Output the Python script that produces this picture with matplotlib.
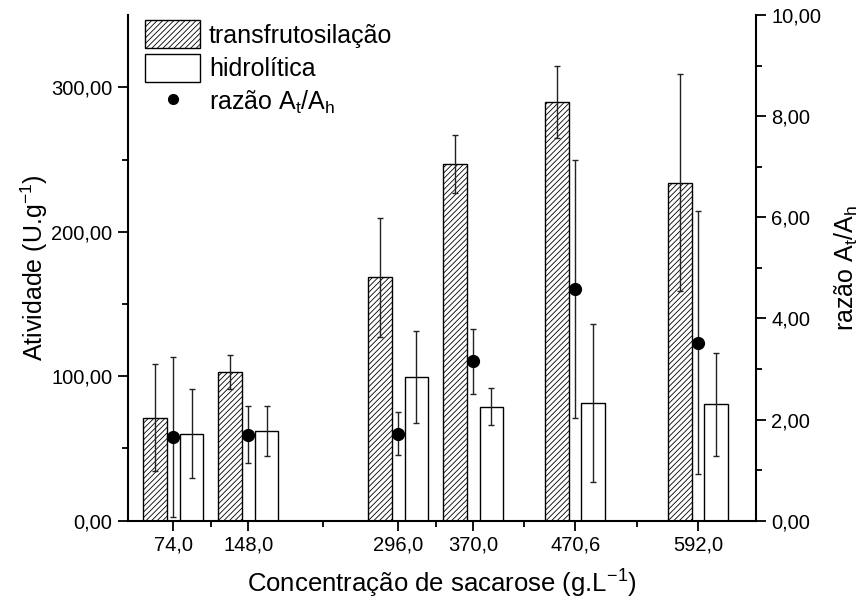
import matplotlib
matplotlib.use("Agg")
import matplotlib.pyplot as plt
import numpy as np
from matplotlib.patches import Patch
from matplotlib.lines import Line2D
from matplotlib.ticker import FixedLocator, FuncFormatter

plt.rcParams['font.family'] = ['Liberation Sans', 'DejaVu Sans']
plt.rcParams['mathtext.fontset'] = 'custom'
plt.rcParams['mathtext.rm'] = 'Liberation Sans'
plt.rcParams['mathtext.it'] = 'Liberation Sans:italic'
plt.rcParams['mathtext.default'] = 'regular'
plt.rcParams['hatch.linewidth'] = 0.6

# Data
concentrations = [74.0, 148.0, 296.0, 370.0, 470.6, 592.0]
tick_labels = ["74,0", "148,0", "296,0", "370,0", "470,6", "592,0"]
transfrut = [71.4, 102.7, 168.4, 247.0, 290.0, 233.9]
transfrut_err = [37.0, 11.7, 41.0, 20.3, 25.0, 75.0]
hidrolitica = [60.3, 62.1, 99.5, 79.0, 81.5, 80.6]
hidrolitica_err = [31.0, 17.0, 32.0, 12.7, 54.4, 35.7]
razao = [1.66, 1.70, 1.72, 3.15, 4.59, 3.52]
razao_err = [1.58, 0.56, 0.43, 0.65, 2.55, 2.60]

fig = plt.figure(figsize=(8.59, 6.04), dpi=100)
ax = fig.add_axes([0.1487, 0.138, 0.7313, 0.837])
ax2 = ax.twinx()

x = np.array(concentrations)
off = 18.0
w = 23.5
ekw = dict(ecolor='#222222', elinewidth=1.0, capsize=2.5, capthick=1.0)

ax.bar(x - off, transfrut, width=w, facecolor='white', edgecolor='black',
       linewidth=1.0, hatch='//////', yerr=transfrut_err, error_kw=ekw, zorder=2)
ax.bar(x + off, hidrolitica, width=w, facecolor='white', edgecolor='black',
       linewidth=1.0, yerr=hidrolitica_err, error_kw=ekw, zorder=2)

ax2.errorbar(x, razao, yerr=razao_err, fmt='o', color='black', markersize=8.5,
             ecolor='#222222', elinewidth=1.0, capsize=2.5, capthick=1.0, zorder=3)

ax.set_xlim(29, 649)
ax.set_ylim(0, 350)
ax2.set_ylim(0, 10)

ax.set_xticks(concentrations)
ax.set_xticklabels(tick_labels)
mids = [(concentrations[i] + concentrations[i + 1]) / 2 for i in range(len(concentrations) - 1)]
ax.xaxis.set_minor_locator(FixedLocator(mids))

ax.set_yticks([0, 100, 200, 300])
ax.yaxis.set_minor_locator(FixedLocator([50, 150, 250]))
ax.yaxis.set_major_formatter(FuncFormatter(lambda v, p: f"{v:.2f}".replace('.', ',')))
ax2.set_yticks([0, 2, 4, 6, 8, 10])
ax2.yaxis.set_minor_locator(FixedLocator([1, 3, 5, 7, 9]))
ax2.yaxis.set_major_formatter(FuncFormatter(lambda v, p: f"{v:.2f}".replace('.', ',')))

for a in (ax, ax2):
    a.spines['top'].set_visible(False)
    for s in a.spines.values():
        s.set_linewidth(1.5)
    a.tick_params(which='major', direction='out', length=7, width=1.3, labelsize=14.5, pad=4)
    a.tick_params(which='minor', direction='out', length=4, width=1.3)
ax.spines['right'].set_visible(False)
ax2.spines['left'].set_visible(False)
ax2.spines['bottom'].set_visible(False)

ax.set_ylabel("Atividade (U.g$^{-1}$)", fontsize=18, labelpad=1)
ax.set_xlabel("Concentração de sacarose (g.L$^{-1}$)", fontsize=18.5, labelpad=9)
ax2.set_ylabel("razão A$_t$/A$_h$", fontsize=18, labelpad=8)

handles = [
    Patch(facecolor='white', edgecolor='black', hatch='//////', linewidth=1.0),
    Patch(facecolor='white', edgecolor='black', linewidth=1.0),
    Line2D([], [], marker='o', linestyle='none', color='black', markersize=7),
]
labels = ["transfrutosilação", "hidrolítica", "razão A$_t$/A$_h$"]
ax.legend(handles, labels, loc='upper left', bbox_to_anchor=(0.028, 0.99),
          frameon=False, fontsize=18, handlelength=2.2, handleheight=1.35,
          labelspacing=0.23, handletextpad=0.35, borderaxespad=0.0, borderpad=0.0)

fig.savefig("out.png", dpi=100)
